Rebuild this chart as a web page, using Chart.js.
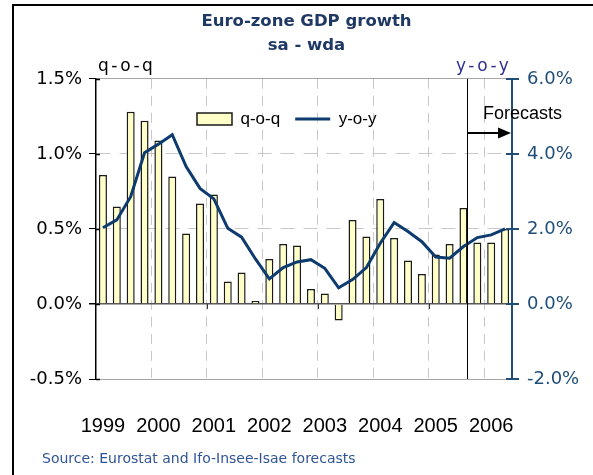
<!DOCTYPE html>
<html>
<head>
<meta charset="utf-8">
<script src="https://cdn.jsdelivr.net/npm/chart.js@4/dist/chart.umd.min.js"></script>
<style>
  body { margin: 0; background: #fff; }
  canvas { display: block; }
</style>
</head>
<body>
<canvas id="gdpChart" width="593" height="475"></canvas>
<script>
// Euro-zone GDP growth, quarterly, 1999Q1 - 2006Q2
const yearLabels = ['1999', '2000', '2001', '2002', '2003', '2004', '2005', '2006'];

// q-o-q growth in % (left axis)
const qoqData = [0.86, 0.65, 1.28, 1.22, 1.09, 0.85, 0.47, 0.67,
                 0.73, 0.15, 0.21, 0.02, 0.30, 0.40, 0.39, 0.10,
                 0.07, -0.11, 0.56, 0.45, 0.70, 0.44, 0.29, 0.20,
                 0.33, 0.40, 0.64, 0.41, 0.41, 0.50];

// y-o-y growth in % (right axis)
const yoyData = [2.03, 2.24, 2.86, 4.03, 4.26, 4.51, 3.66, 3.08,
                 2.80, 2.02, 1.78, 1.20, 0.67, 0.97, 1.12, 1.18,
                 0.95, 0.43, 0.65, 0.97, 1.62, 2.17, 1.93, 1.66,
                 1.25, 1.22, 1.53, 1.77, 1.84, 2.00];

const leftTicks = [-0.5, 0, 0.5, 1.0, 1.5];
const rightTicks = [-2, 0, 2, 4, 6];

// one label per quarter, year shown on Q1
const quarterLabels = qoqData.map((v, i) => (i % 4 === 0 ? yearLabels[i / 4] : ''));

const navy = '#0D3B6E';
const axisBlue = '#1F4E79';

const decorations = {
    id: 'decorations',
    beforeLayout(chart) {
        // lay the legend out in one row even though it sits in the chart area
        if (chart.legend) chart.legend.isHorizontal = () => true;
    },
    afterLayout(chart) {
        // put the legend inside the plot, where the reference has it
        const lg = chart.legend;
        const w = lg.width, h = lg.height;
        lg.left = 182;
        lg.right = lg.left + w;
        lg.top = 95.5;
        lg.bottom = lg.top + h;
    },
    afterDraw(chart) {
        const c = chart.ctx;
        const x = chart.scales.x;
        const y = chart.scales.y;
        const y1 = chart.scales.y1;
        const area = chart.chartArea;
        c.save();

        // frame
        c.strokeStyle = '#000';
        c.lineWidth = 2;
        c.beginPath();
        c.moveTo(13, 475);
        c.lineTo(13, 5);
        c.lineTo(593, 5);
        c.stroke();

        // tick marks reaching into the plot
        c.lineWidth = 1.5;
        leftTicks.forEach(v => {
            const py = Math.round(y.getPixelForValue(v)) + 0.5;
            c.beginPath();
            c.moveTo(area.left, py);
            c.lineTo(area.left + 4, py);
            c.stroke();
        });
        c.strokeStyle = axisBlue;
        c.lineWidth = 2;
        rightTicks.forEach(v => {
            const py = Math.round(y1.getPixelForValue(v));
            c.beginPath();
            c.moveTo(area.right - 6, py);
            c.lineTo(area.right, py);
            c.stroke();
        });

        // small ticks on the zero line
        const y0 = y.getPixelForValue(0);
        c.lineWidth = 1;
        c.strokeStyle = '#333';
        [8, 16, 24].forEach(i => {
            const px = Math.round(x.getPixelForValue(i - 0.5)) + 0.5;
            c.beginPath();
            c.moveTo(px, y0);
            c.lineTo(px, y0 + 5);
            c.stroke();
        });

        // axis captions
        c.font = '17px "DejaVu Sans"';
        c.textBaseline = 'alphabetic';
        c.letterSpacing = '2.5px';
        c.fillStyle = '#000';
        c.textAlign = 'left';
        c.fillText('q-o-q', 98, 71);
        c.fillStyle = '#2E3192';
        c.fillText('y-o-y', 456, 71);
        c.letterSpacing = '0px';

        // forecast marker
        const fx = Math.round(x.getPixelForValue(26.25)) + 0.5;
        c.strokeStyle = '#000';
        c.lineWidth = 1;
        c.beginPath();
        c.moveTo(fx, area.top);
        c.lineTo(fx, area.bottom);
        c.stroke();
        c.lineWidth = 2;
        c.beginPath();
        c.moveTo(fx, 133);
        c.lineTo(area.right - 10, 133);
        c.stroke();
        c.fillStyle = '#000';
        c.beginPath();
        c.moveTo(area.right - 1, 133);
        c.lineTo(area.right - 14, 127.5);
        c.lineTo(area.right - 14, 138.5);
        c.closePath();
        c.fill();
        c.font = '18px "Liberation Sans"';
        c.textAlign = 'left';
        c.fillText('Forecasts', 483, 119);

        // source
        c.font = '14px "DejaVu Sans"';
        c.fillStyle = '#2F5597';
        c.fillText('Source: Eurostat and Ifo-Insee-Isae forecasts', 42, 463);
        c.restore();
    }
};

const ctx = document.getElementById('gdpChart').getContext('2d');
new Chart(ctx, {
    data: {
        labels: quarterLabels,
        datasets: [{
            type: 'bar',
            label: 'q-o-q',
            data: qoqData,
            yAxisID: 'y',
            backgroundColor: '#FFFFC8',
            borderColor: '#1A1A1A',
            borderWidth: 1.5,
            categoryPercentage: 1,
            barPercentage: 0.58,
            order: 1
        }, {
            type: 'line',
            label: 'y-o-y',
            data: yoyData,
            yAxisID: 'y1',
            borderColor: navy,
            borderWidth: 3,
            pointRadius: 0,
            tension: 0,
            order: 0
        }]
    },
    options: {
        responsive: false,
        animation: false,
        layout: { padding: { left: 20, right: 0, top: 0, bottom: 0 } },
        plugins: {
            title: {
                display: true,
                text: ['Euro-zone GDP growth', 'sa - wda'],
                color: '#1F3864',
                font: { family: 'DejaVu Sans', size: 16.5, weight: 'bold', lineHeight: 1.45 },
                padding: { top: 10, bottom: 21 }
            },
            legend: {
                position: 'chartArea',
                align: 'start',
                labels: {
                    usePointStyle: true,
                    pointStyleWidth: 35,
                    boxWidth: 35,
                    boxHeight: 12,
                    padding: 15,
                    color: '#000',
                    font: { family: 'Liberation Sans', size: 17 },
                    generateLabels(chart) {
                        return chart.data.datasets.map((ds, i) => ({
                            text: ds.label,
                            datasetIndex: i,
                            fillStyle: ds.type === 'bar' ? ds.backgroundColor : ds.borderColor,
                            strokeStyle: ds.borderColor,
                            lineWidth: ds.type === 'bar' ? 1.5 : 3,
                            pointStyle: ds.type === 'bar' ? 'rect' : 'line',
                            fontColor: '#000'
                        }));
                    }
                }
            },
            tooltip: { enabled: false }
        },
        scales: {
            x: {
                afterFit(scale) { scale.height = 96; },
                offset: true,
                grid: {
                    offset: true,
                    drawTicks: false,
                    color: c => (c.index > 0 && c.index % 4 === 0 ? '#C8C8C8' : 'rgba(0,0,0,0)')
                },
                border: {
                    color: '#A6A6A6',
                    width: 1,
                    dash: c => (c.index > 0 && c.index % 4 === 0 ? [10, 7] : [])
                },
                ticks: {
                    autoSkip: false,
                    maxRotation: 0,
                    padding: 35,
                    color: '#000',
                    font: { family: 'Liberation Sans', size: 20 }
                }
            },
            y: {
                position: 'left',
                min: leftTicks[0],
                max: leftTicks[leftTicks.length - 1],
                afterFit(scale) { scale.width = 76; },
                afterBuildTicks(scale) { scale.ticks = leftTicks.map(v => ({ value: v })); },
                grid: {
                    color: c => {
                        const v = c.tick ? c.tick.value : null;
                        if (v === 0) return '#555';
                        if (v === 0.5 || v === 1) return '#C8C8C8';
                        return '#A6A6A6';
                    },
                    lineWidth: c => (c.tick && c.tick.value === 0 ? 1.5 : 1),
                    tickColor: '#000',
                    tickLength: 7
                },
                border: {
                    color: '#000',
                    width: 1.5,
                    dash: c => (c.tick && (c.tick.value === 0.5 || c.tick.value === 1) ? [14, 9] : [])
                },
                ticks: {
                    padding: 7,
                    color: '#000',
                    font: { family: 'DejaVu Sans', size: 18 },
                    callback: v => v.toFixed(1) + '%'
                }
            },
            y1: {
                position: 'right',
                min: rightTicks[0],
                max: rightTicks[rightTicks.length - 1],
                afterFit(scale) { scale.width = 81; },
                afterBuildTicks(scale) { scale.ticks = rightTicks.map(v => ({ value: v })); },
                grid: {
                    drawOnChartArea: false,
                    tickColor: axisBlue,
                    tickLength: 7,
                    lineWidth: 2
                },
                border: { color: axisBlue, width: 2 },
                ticks: {
                    padding: 8,
                    color: axisBlue,
                    font: { family: 'DejaVu Sans', size: 18 },
                    callback: v => v.toFixed(1) + '%'
                }
            }
        }
    },
    plugins: [decorations]
});
</script>
</body>
</html>
